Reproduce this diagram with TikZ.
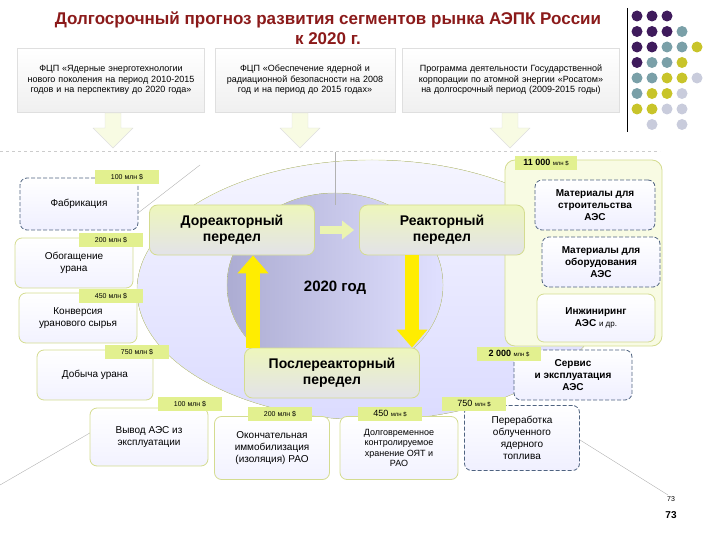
\documentclass[tikz,border=0pt]{standalone}
\usepackage{fontspec}
\setmainfont{Liberation Sans}
\usetikzlibrary{arrows.meta,calc}
\definecolor{ttl}{HTML}{8B1A1A}
\definecolor{lblg}{HTML}{E2F08F}
\definecolor{dashc}{HTML}{4F6380}
\definecolor{solc}{HTML}{D4DC90}
\definecolor{dpurp}{HTML}{3F1B5C}
\definecolor{teal}{HTML}{7AA0A8}
\definecolor{ylw}{HTML}{C8C42A}
\definecolor{lgray}{HTML}{C9CCDC}
\tikzset{
 topbox/.style={draw=gray!25,top color=white,bottom color=gray!12,minimum width=#1,minimum height=64,align=center,font=\fontsize{9}{10.5}\selectfont,text width=#1-20},
 dbox/.style={draw=dashc,line width=0.8pt,dash pattern=on 4pt off 2pt,rounded corners=7,top color=white,bottom color=blue!6,align=center,font=\fontsize{10}{12}\selectfont},
 sbox/.style={draw=solc,line width=0.8pt,rounded corners=7,top color=white,bottom color=blue!5,align=center,font=\fontsize{10}{12}\selectfont},
 lbl/.style={fill=lblg,minimum height=14,minimum width=64,inner sep=1,font=\fontsize{7}{8}\selectfont},
 cbox/.style={draw=solc,line width=0.8pt,rounded corners=8,top color=lblg!60,bottom color=blue!12!gray!20,minimum width=165,minimum height=50,align=center,font=\bfseries\fontsize{14}{16}\selectfont},
 bigarrow/.style={line width=14pt,color=yellow!95!orange,-{Triangle[width=30pt,length=18pt]}},
 pale/.style={draw=gray!25,fill=lblg!25},
 thin/.style={draw=gray!60,line width=0.4pt}
}
\begin{document}
\begin{tikzpicture}[x=1pt,y=-1pt]
\useasboundingbox (0,0) rectangle (720,540);
% title
\node[text=ttl,font=\bfseries\fontsize{17}{20}\selectfont,align=center] (title) at (328,28) {Долгосрочный прогноз развития сегментов рынка АЭПК России\\к 2020 г.};
\draw[black,line width=1pt] (627,8) -- (627,132);
% dots
\foreach \r/\lst in {0/{1/dpurp,2/dpurp,3/dpurp},1/{1/dpurp,2/dpurp,3/dpurp,4/teal},2/{1/dpurp,2/dpurp,3/teal,4/teal,5/ylw},3/{1/dpurp,2/teal,3/teal,4/ylw},4/{1/teal,2/teal,3/ylw,4/ylw,5/lgray},5/{1/teal,2/ylw,3/ylw,4/lgray},6/{1/ylw,2/ylw,3/lgray,4/lgray},7/{2/lgray,4/lgray}}{
 \foreach \c/\col in \lst { \fill[\col] (622+15*\c,16+15.5*\r) circle (5.5); }
}
% top boxes
\node[topbox=187] (t1) at (111,80) {ФЦП «Ядерные энерготехнологии нового поколения на период 2010-2015 годов и на перспективу до 2020 года»};
\node[topbox=180] (t2) at (305,80) {ФЦП «Обеспечение ядерной и радиационной безопасности на 2008 год и на период до 2015 годах»};
\node[topbox=217] (t3) at (511,80) {Программа деятельности Государственной корпорации по атомной энергии «Росатом» на долгосрочный период (2009-2015 годы)};
\foreach \n/\x in {t1/113,t2/300,t3/510}{
 \draw[pale] (\x-8,113) -- (\x+8,113) -- (\x+8,128) -- (\x+20,128) -- (\x,148) -- (\x-20,128) -- (\x-8,128) -- cycle;
}
\draw[gray!40,dashed] (0,151) -- (660,151);
% ellipses
\fill[top color=blue!4,bottom color=blue!14,draw=solc] (372,290) ellipse (235 and 130);
\fill[left color=blue!30!gray!50,right color=blue!12,draw=solc] (335,285) ellipse (108 and 92);
\draw[thin] (335,152) -- (335,205);
\draw[thin] (0,485) -- (95,430);
\draw[thin] (580,440) -- (668,495);
\draw[thin] (138,213) -- (200,165);
% right group
\draw[solc,line width=0.8pt,fill=lblg!25,rounded corners=10] (505,160) rectangle (662,346);
% center nodes
\node[cbox] (dore) at (232,230) {Дореакторный\\передел};
\node[cbox] (reak) at (442,230) {Реакторный\\передел};
\node[cbox,minimum width=175] (post) at (332,373) {Послереакторный\\передел};
\node[font=\bfseries\fontsize{15}{18}\selectfont] (god) at (335,288) {2020 год};
\coordinate (ua) at (253,0); \coordinate (da) at (412,0);
\draw[bigarrow] (post.north -| ua) -- (dore.south -| ua);
\draw[bigarrow] (reak.south -| da) -- (post.north -| da);
\draw[line width=8pt,color=lblg!70,-{Triangle[width=18pt,length=12pt]}] ($(dore.east)+(5,0)$) -- ($(reak.west)+(-5,0)$);
% left boxes
\node[dbox,minimum width=118,minimum height=52] (fab) at (79,204) {Фабрикация};
\node[lbl] (l1) at (127,177) {100 млн \$};
\node[sbox,minimum width=118,minimum height=50] (obo) at (74,263) {Обогащение\\урана};
\node[lbl] (l2) at (111,240) {200 млн \$};
\node[sbox,minimum width=118,minimum height=50] (kon) at (78,318) {Конверсия\\уранового сырья};
\node[lbl] (l3) at (111,296) {450 млн \$};
\node[sbox,minimum width=116,minimum height=50] (dob) at (95,375) {Добыча урана};
\node[lbl] (l4) at (137,352) {750 млн \$};
% right boxes
\node[lbl,minimum width=62,font=\bfseries\fontsize{9}{10}\selectfont] (l5) at (546,163) {11 000 \fontsize{6}{7}\mdseries млн \$};
\node[dbox,minimum width=120,minimum height=50,font=\bfseries\fontsize{10}{12}\selectfont] (ms) at (595,205) {Материалы для\\строительства\\АЭС};
\node[dbox,minimum width=118,minimum height=50,font=\bfseries\fontsize{10}{12}\selectfont] (mo) at (601,262) {Материалы для\\оборудования\\АЭС};
\node[sbox,minimum width=118,minimum height=48,font=\bfseries\fontsize{10}{12}\selectfont] (ing) at (596,318) {Инжиниринг\\АЭС {\mdseries\fontsize{8}{9}\selectfont и др.}};
\node[dbox,minimum width=118,minimum height=50,font=\bfseries\fontsize{10}{12}\selectfont] (serv) at (573,375) {Сервис\\и эксплуатация\\АЭС};
\node[lbl,font=\bfseries\fontsize{9}{10}\selectfont] (l6) at (509,354) {2 000 \fontsize{6}{7}\mdseries млн \$};
% bottom boxes
\node[sbox,minimum width=118,minimum height=58] (vyv) at (149,437) {Вывод АЭС из\\эксплуатации};
\node[lbl] (l7) at (190,404) {100 млн \$};
\node[sbox,minimum width=115,minimum height=63] (oko) at (272,448) {Окончательная\\иммобилизация\\(изоляция) РАО};
\node[lbl] (l8) at (280,414) {200 млн \$};
\node[sbox,minimum width=118,minimum height=63,font=\fontsize{9}{10.5}\selectfont] (dol) at (399,448) {Долговременное\\контролируемое\\хранение ОЯТ и\\РАО};
\node[lbl,font=\fontsize{9}{10}\selectfont] (l9) at (390,414) {450 \fontsize{6}{7}\selectfont млн \$};
\node[dbox,minimum width=115,minimum height=65] (per) at (522,438) {Переработка\\облученного\\ядерного\\топлива};
\node[lbl,font=\fontsize{9}{10}\selectfont] (l10) at (474,404) {750 \fontsize{6}{7}\selectfont млн \$};
% page number
\node[font=\fontsize{7}{7}\selectfont] (p1) at (671,499) {73};
\node[font=\bfseries\fontsize{10}{10}\selectfont] (p2) at (671,515) {73};
\end{tikzpicture}
\end{document}
